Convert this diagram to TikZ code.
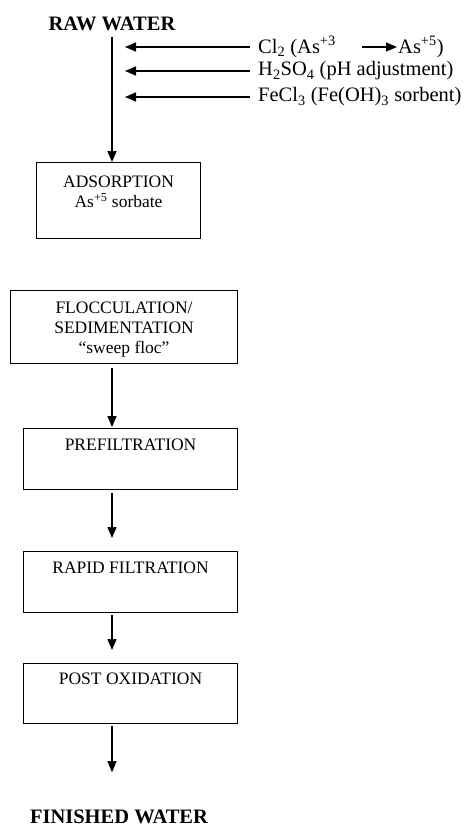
\documentclass[tikz,border=0pt]{standalone}
\usepackage{fontspec}
\setmainfont{Liberation Serif}
\usetikzlibrary{arrows.meta}
\begin{document}
\begin{tikzpicture}[x=1pt,y=-1pt,
  box/.style={draw, line width=1.1pt, inner sep=0pt, anchor=north west},
  boxtxt/.style={font=\fontsize{17.5}{20}\selectfont, align=center, inner sep=0pt, anchor=north},
  title/.style={font=\fontsize{20.5}{24}\selectfont\bfseries, inner sep=0pt, anchor=base},
  chem/.style={font=\fontsize{20.5}{24}\selectfont, inner xsep=8pt, inner ysep=0pt, anchor=west},
  arr/.style={line width=1.3pt, -{Triangle[length=11pt,width=9pt]}},
  mainarr/.style={line width=1.8pt, -{Triangle[length=11pt,width=9pt]}}
]
\useasboundingbox (0,0) rectangle (467,827);

% titles
\node[title] (raw) at (112,30) {RAW WATER};
\node[title] (fin) at (119,823) {FINISHED WATER};

% boxes
\node[box, minimum width=164pt, minimum height=76pt] (ads) at (36,162) {};
\node[boxtxt] (adst) at ([yshift=-14pt]ads.north) {ADSORPTION\\As\textsuperscript{+5} sorbate};

\node[box, minimum width=227pt, minimum height=73pt] (flo) at (10,290) {};
\node[boxtxt] (flot) at ([yshift=-12pt]flo.north) {FLOCCULATION/\\SEDIMENTATION\\``sweep floc''};

\node[box, minimum width=214pt, minimum height=61pt] (pre) at (23,428) {};
\node[boxtxt] (pret) at ([yshift=-11pt]pre.north) {PREFILTRATION};

\node[box, minimum width=214pt, minimum height=61pt] (rap) at (23,551) {};
\node[boxtxt] (rapt) at ([yshift=-11pt]rap.north) {RAPID FILTRATION};

\node[box, minimum width=214pt, minimum height=60pt] (post) at (23,663) {};
\node[boxtxt] (postt) at ([yshift=-10pt]post.north) {POST OXIDATION};

% chemical feeds
\node[chem] (c1) at (250,47) {Cl\textsubscript{2} (As\textsuperscript{+3}};
\node[chem, inner xsep=1pt] (c1b) at (397,47) {As\textsuperscript{+5})};
\node[chem] (c2) at (250,71) {H\textsubscript{2}SO\textsubscript{4} (pH adjustment)};
\node[chem] (c3) at (250,97) {FeCl\textsubscript{3} (Fe(OH)\textsubscript{3} sorbent)};

\coordinate (t1) at (125,47);
\coordinate (t2) at (125,71);
\coordinate (t3) at (125,97);

\draw[arr] (c1.west) -- (t1);
\draw[arr] (c2.west) -- (t2);
\draw[arr] (c3.west) -- (t3);
\draw[arr, line width=1.1pt] ([xshift=-35pt]c1b.west) -- (c1b.west);

% main flow
\draw[mainarr, shorten <=6pt] (raw.south) -- (raw.south |- ads.north);
\draw[arr, shorten <=4pt, shorten >=1pt] (raw.south |- flo.south) -- (raw.south |- pre.north);
\draw[arr, shorten <=3pt, shorten >=13pt] (raw.south |- pre.south) -- (raw.south |- rap.north);
\draw[arr, shorten <=2pt, shorten >=13pt] (raw.south |- rap.south) -- (raw.south |- post.north);
\draw[arr, shorten <=2pt, shorten >=37pt] (raw.south |- post.south) -- (raw.south |- fin.north);
\end{tikzpicture}
\end{document}
